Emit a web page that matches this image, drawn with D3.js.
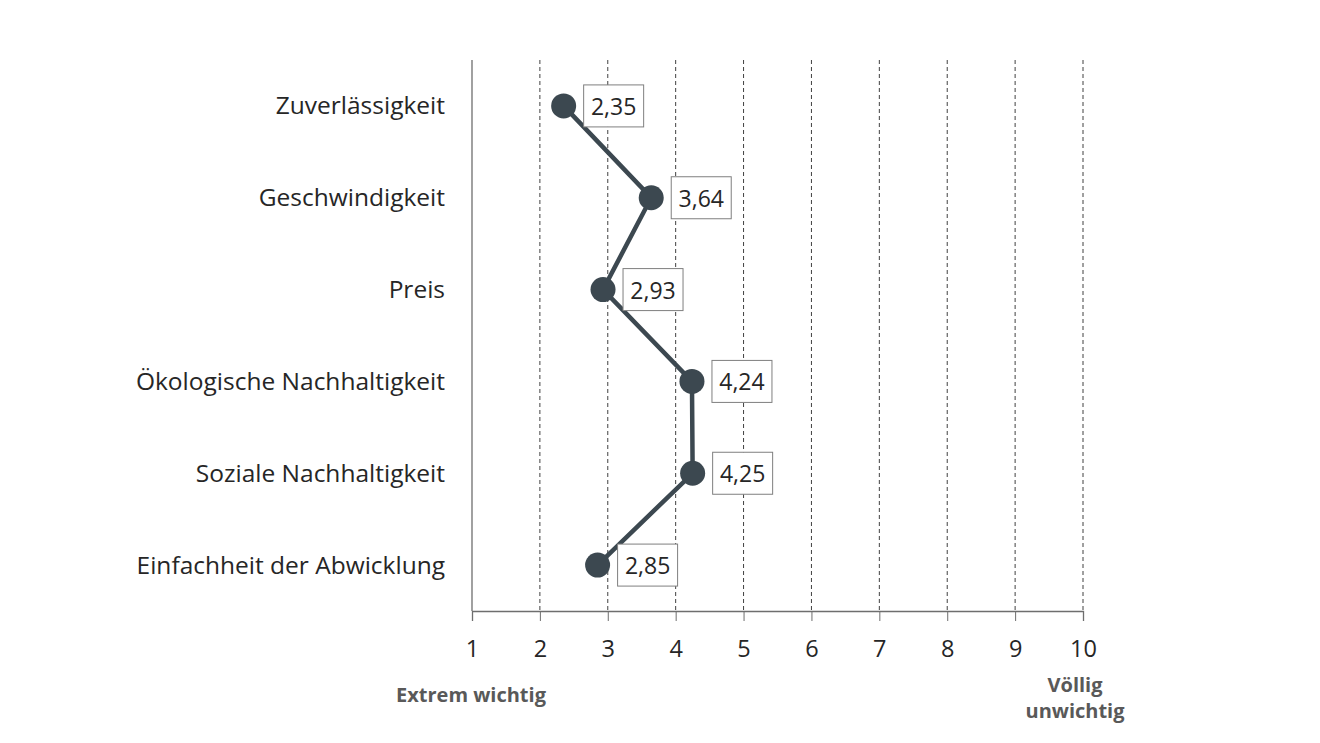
<!DOCTYPE html>
<html>
<head>
<meta charset="utf-8">
<script src="https://cdn.jsdelivr.net/npm/d3@7"></script>
<style>
  body { margin: 0; background: #fff; }
  svg text { font-family: "Open Sans", "Noto Sans", sans-serif; }
  .cat-label { font-size: 24.5px; fill: #262626; }
  .tick-label { font-size: 23.5px; fill: #262626; }
  .val-label { font-size: 23px; fill: #262626; }
  .end-label { font-size: 20px; font-weight: bold; fill: #595959; }
</style>
</head>
<body>
<script>
// data
const categories = [
  'Zuverlässigkeit',
  'Geschwindigkeit',
  'Preis',
  'Ökologische Nachhaltigkeit',
  'Soziale Nachhaltigkeit',
  'Einfachheit der Abwicklung'
];
const values = [2.35, 3.64, 2.93, 4.24, 4.25, 2.85];
const ticks = [1, 2, 3, 4, 5, 6, 7, 8, 9, 10];

// svg params
const svgW = 1320;
const svgH = 743;
const plot = { left: 472, right: 1083, top: 60, bottom: 611 };
const ink = '#3c4850';

const x = d3.scaleLinear().domain([1, 10]).range([plot.left, plot.right]);
const y = d3.scaleBand().domain(categories).range([plot.top, plot.bottom]);
const yc = (c) => y(c) + y.bandwidth() / 2;

const svg = d3.select('body').append('svg').attr('width', svgW).attr('height', svgH);

/*
  grid + axis
*/
svg.selectAll('line.grid')
  .data(ticks.slice(1))
  .join('line')
  .attr('class', 'grid')
  .attr('x1', (d) => x(d)).attr('x2', (d) => x(d))
  .attr('y1', plot.top).attr('y2', plot.bottom)
  .attr('stroke', '#404040')
  .attr('stroke-width', 1)
  .attr('stroke-dasharray', '4,3');

svg.append('line')
  .attr('x1', x(1)).attr('x2', x(1))
  .attr('y1', plot.top).attr('y2', plot.bottom)
  .attr('stroke', '#6e6e6e').attr('stroke-width', 1.3);

const axis = svg.append('g')
  .attr('transform', 'translate(0,' + plot.bottom + ')')
  .call(d3.axisBottom(x).tickValues(ticks).tickSize(10).tickPadding(19).tickFormat(d3.format('d')));
axis.select('.domain').attr('stroke', '#6e6e6e').attr('stroke-width', 1.3);
axis.selectAll('.tick line').attr('stroke', '#6e6e6e');
axis.selectAll('.tick text').attr('class', 'tick-label').attr('font-size', null).attr('font-family', null);
axis.attr('font-size', null).attr('font-family', null);

// category labels
svg.selectAll('text.cat-label')
  .data(categories)
  .join('text')
  .attr('class', 'cat-label')
  .attr('x', 445)
  .attr('y', (d) => yc(d))
  .attr('dy', '0.35em')
  .attr('text-anchor', 'end')
  .text((d) => d);

/*
  line + points
*/
const pts = categories.map((c, i) => ({ c: c, v: values[i] }));
const line = d3.line().x((d) => x(d.v)).y((d) => yc(d.c));

svg.append('path')
  .datum(pts)
  .attr('d', line)
  .attr('fill', 'none')
  .attr('stroke', ink)
  .attr('stroke-width', 4.5);

svg.selectAll('circle.pt')
  .data(pts)
  .join('circle')
  .attr('class', 'pt')
  .attr('cx', (d) => x(d.v))
  .attr('cy', (d) => yc(d.c))
  .attr('r', 12.5)
  .attr('fill', ink);

// value labels in boxes
const fmt = (v) => d3.format('.2f')(v).replace('.', ',');
const lab = svg.selectAll('g.val')
  .data(pts)
  .join('g')
  .attr('class', 'val')
  .attr('transform', (d) => 'translate(' + (x(d.v) + 20) + ',' + yc(d.c) + ')');
lab.append('rect')
  .attr('x', 0).attr('y', -21)
  .attr('width', 60).attr('height', 42)
  .attr('fill', '#fff')
  .attr('stroke', '#7f7f7f')
  .attr('stroke-width', 1);
lab.append('text')
  .attr('class', 'val-label')
  .attr('x', 30).attr('y', 1)
  .attr('dy', '0.35em')
  .attr('text-anchor', 'middle')
  .text((d) => fmt(d.v));

// end labels
svg.append('text').attr('class', 'end-label')
  .attr('x', 471).attr('y', 702)
  .attr('text-anchor', 'middle')
  .text('Extrem wichtig');
const endR = svg.append('text').attr('class', 'end-label')
  .attr('x', 1075).attr('y', 692)
  .attr('text-anchor', 'middle');
endR.append('tspan').attr('x', 1075).text('Völlig');
endR.append('tspan').attr('x', 1075).attr('dy', 26).text('unwichtig');
</script>
</body>
</html>
